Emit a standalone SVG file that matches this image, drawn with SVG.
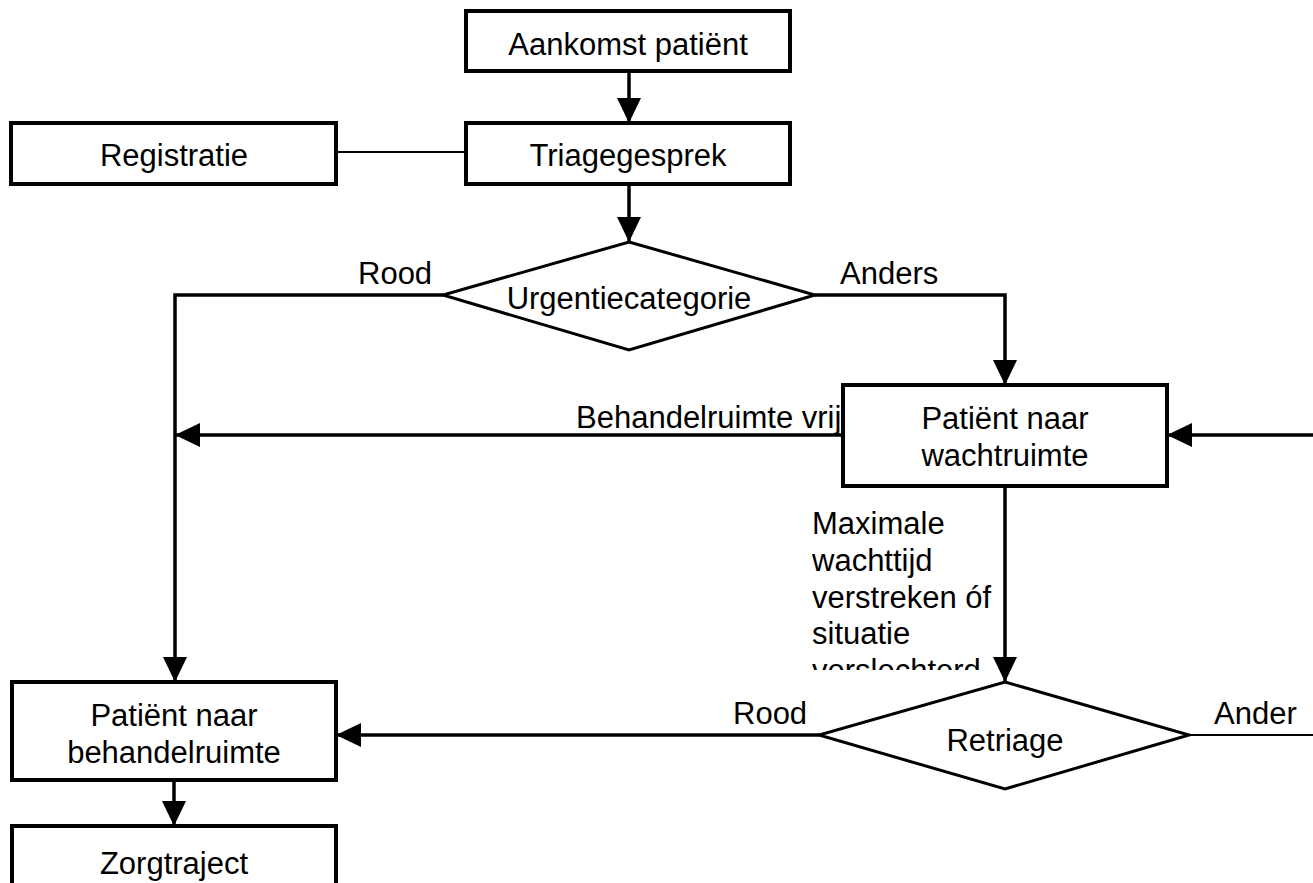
<svg xmlns="http://www.w3.org/2000/svg" width="1313" height="883" viewBox="0 0 1313 883">
<style>
.box{fill:#fff;stroke:#000;stroke-width:4}
.dia{fill:#fff;stroke:#000;stroke-width:3}
.t{font-family:"Liberation Sans",Arial,sans-serif;font-size:31px;fill:#000}
.c{text-anchor:middle}
.ln{fill:none;stroke:#000;stroke-width:3.5}
.thin{fill:none;stroke:#000;stroke-width:2}
</style>
<defs>
<marker id="ah" viewBox="0 0 25 24" refX="25" refY="12" markerWidth="25" markerHeight="24" markerUnits="userSpaceOnUse" orient="auto">
<path d="M0,0 L25,12 L0,24 z" fill="#000"/>
</marker>
<clipPath id="lblclip"><rect x="790" y="500" width="215" height="170"/></clipPath>
</defs>
<rect width="1313" height="883" fill="#fff"/>
<g id="labels-behind">
<text class="t" x="576" y="428">Behandelruimte vrij</text>
</g>
<g id="connectors">
<line class="ln" x1="629" y1="71" x2="629" y2="123" marker-end="url(#ah)"/>
<line class="thin" x1="336" y1="152" x2="466" y2="152"/>
<line class="ln" x1="629" y1="184" x2="629" y2="242" marker-end="url(#ah)"/>
<polyline class="ln" points="443,295 175,295 175,682" marker-end="url(#ah)"/>
<polyline class="ln" points="815,295 1005,295 1005,385" marker-end="url(#ah)"/>
<line class="ln" x1="843" y1="435" x2="175" y2="435" marker-end="url(#ah)"/>
<line class="ln" x1="1313" y1="435" x2="1167" y2="435" marker-end="url(#ah)"/>
<line class="ln" x1="1005" y1="486" x2="1005" y2="682" marker-end="url(#ah)"/>
<line class="ln" x1="819" y1="735" x2="336" y2="735" marker-end="url(#ah)"/>
<line class="thin" x1="1189" y1="735" x2="1313" y2="735"/>
<line class="ln" x1="174" y1="780" x2="174" y2="826" marker-end="url(#ah)"/>
<text class="t" x="358" y="284">Rood</text>
<text class="t" x="840" y="284">Anders</text>
<text class="t" x="733" y="724">Rood</text>
<text class="t" x="1214" y="724">Ander</text>
<g clip-path="url(#lblclip)">
<text class="t" x="812" y="534">Maximale</text>
<text class="t" x="812" y="571">wachttijd</text>
<text class="t" x="812" y="608">verstreken óf</text>
<text class="t" x="812" y="644">situatie</text>
<text class="t" x="812" y="681">verslechterd</text>
</g>
</g>
<g id="aankomst">
<rect class="box" x="466" y="11" width="324" height="60"/>
<text class="t c" x="628" y="55">Aankomst patiënt</text>
</g>
<g id="registratie">
<rect class="box" x="11" y="123" width="325" height="61"/>
<text class="t c" x="174" y="166">Registratie</text>
</g>
<g id="triagegesprek">
<rect class="box" x="466" y="123" width="324" height="61"/>
<text class="t c" x="628" y="166">Triagegesprek</text>
</g>
<g id="urgentiecategorie">
<polygon class="dia" points="629,242 815,295 629,350 443,295"/>
<text class="t c" x="629" y="309">Urgentiecategorie</text>
</g>
<g id="wachtruimte">
<rect class="box" x="843" y="385" width="324" height="101"/>
<text class="t c" x="1005" y="429">Patiënt naar</text>
<text class="t c" x="1005" y="466">wachtruimte</text>
</g>
<g id="retriage">
<polygon class="dia" points="1005,682 1189,735 1005,789 819,735"/>
<text class="t c" x="1005" y="751">Retriage</text>
</g>
<g id="behandelruimte">
<rect class="box" x="12" y="682" width="324" height="98"/>
<text class="t c" x="174" y="726">Patiënt naar</text>
<text class="t c" x="174" y="763">behandelruimte</text>
</g>
<g id="zorgtraject">
<rect class="box" x="12" y="826" width="324" height="80"/>
<text class="t c" x="174" y="874">Zorgtraject</text>
</g>
</svg>
